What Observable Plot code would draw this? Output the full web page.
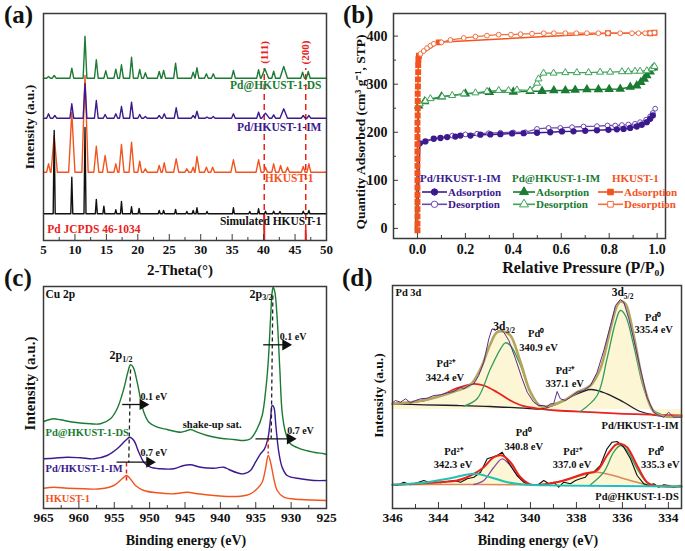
<!DOCTYPE html>
<html><head><meta charset="utf-8">
<script src="https://cdn.jsdelivr.net/npm/d3@7"></script>
<script src="https://cdn.jsdelivr.net/npm/@observablehq/plot@0.6"></script>
<style>
body{margin:0;background:#fff;}
#fig{position:relative;width:685px;height:551px;overflow:hidden;font-family:"Liberation Serif","Times New Roman",serif;font-weight:bold;background:#fff;}
.panel{position:absolute;}
.plabel{position:absolute;font-size:25px;font-weight:bold;line-height:1;color:#111;}
</style></head><body><div id="fig"></div>
<script>
const FONT = '"Liberation Serif","Times New Roman",serif';
const GREEN = "#1b7b33", PURPLE = "#3c1a8e", ORANGE = "#f2541f", RED = "#e8231c", BLACK = "#111111";
const GREEN_L = "#3fa35a", PURPLE_L = "#6a4aae", ORANGE_L = "#f2703f";

// ================= (a) XRD =================
const xrdTicks = [5, 10, 15, 20, 25, 30, 35, 40, 45, 50];
const xrdMinorTicks = [7.5, 12.5, 17.5, 22.5, 27.5, 32.5, 37.5, 42.5, 47.5];
const dsBase = 162.3;
const dsPeaks = [[5.8,164],[6.7,165],[9.5,172.3],[11.6,204.3],[13.4,180.7],[14.9,169.7],[16.5,171.3],[17.4,175.7],[19.0,183.3],[20.3,171],[21.2,167.7],[23.4,169],[24.1,170],[26.0,177.3],[28.8,168.3],[29.4,172.7],[30.9,166.7],[32.0,166.7],[35.2,170],[39.2,170.7],[40.2,171.7,0.6],[41.6,169.3],[43.2,174,0.6],[46.2,168.3],[47.1,169]];
const imBase = 122.3;
const imPeaks = [[5.8,126.7],[6.8,125],[9.5,136.7],[11.6,156.7],[13.4,140],[14.8,126],[16.5,126.7],[17.4,134],[19.0,138.3],[20.3,126],[21.2,124],[23.4,125],[24.2,126.7],[26.1,132.7],[28.8,125],[29.4,129.3],[31.0,123.3],[32.0,124],[35.2,126.7],[39.2,128.3],[40.3,127.3,0.6],[41.6,125.7],[43.2,131.7,0.6],[46.3,125],[47.2,125]];
const hkBase = 68.3;
const hkPeaks = [[5.8,76.7],[6.7,105,0.5],[9.5,128,0.5],[11.6,165,0.5],[13.4,94.3,0.4],[14.8,85,0.4],[16.5,76.7],[17.4,96,0.4],[19.0,98.3,0.4],[20.3,79.3],[21.2,71.7],[23.4,75],[24.2,77.7],[26.1,81.7,0.4],[27.8,71.7],[28.8,73.3],[29.4,84,0.4],[30.9,73.3],[31.9,73.3],[35.2,80.7,0.4],[39.2,80.7,0.4],[40.3,73.3],[41.6,76.7],[42.7,75],[43.8,73.3],[46.3,74],[47.2,76.7]];
const simBase = 26.7;
const simPeaks = [[6.7,110],[9.5,63.3],[11.6,113],[13.4,41],[14.6,34.3],[16.5,30.7],[17.4,39],[19.0,33.7],[20.2,32],[23.4,30],[24.1,30],[26.0,31],[27.8,29],[28.8,30],[29.4,32.7],[31.0,29],[35.2,32.7],[37.8,29],[39.2,31.7],[40.3,29.3],[41.6,29.3],[42.6,29],[46.3,29.3],[47.2,30]];
const pdPos = [40.1, 46.7];
const pdStick = [27, 10];
const pdHkl = ["(111)", "(200)"];
const pdDashTop = 172;
const pdHklY = 188;
const xrdLabels = [
  {x: 49.2, y: 155, t: "Pd@HKUST-1-DS", c: GREEN, a: "end"},
  {x: 49.2, y: 113, t: "Pd/HKUST-1-IM", c: PURPLE, a: "end"},
  {x: 47.95, y: 62, t: "HKUST-1", c: ORANGE, a: "end"},
  {x: 49.2, y: 19, t: "Simulated HKUST-1", c: BLACK, a: "end"},
  {x: 5.6, y: 11, t: "Pd JCPDS 46-1034", c: RED, a: "start"}
];

// ================= (b) N2 isotherms =================
const bTicksX = [0, 0.2, 0.4, 0.6, 0.8, 1.0];
const bMinorX = [-0.1, 0.1, 0.3, 0.5, 0.7, 0.9];
const bTicksY = [0, 100, 200, 300, 400];
const bMinorY = [50, 150, 250, 350];
const hkAds = [[0,-4],[0,10],[0,25],[0,40],[0,55],[0,70],[0,85],[0,100],[0,115],[0,130],[0,145],[0,160],[0,175],[0,190],[0,205],[0,220],[0.001,235],[0.001,250],[0.001,265],[0.001,280],[0.002,295],[0.002,310],[0.003,325],[0.003,340],[0.004,352],[0.006,359],[0.089,387],[0.795,406],[0.971,406],[0.989,407]];
const hkDes = [[0.0125,363],[0.026,369],[0.04,375],[0.054,380],[0.068,384],[0.10,387],[0.1375,392],[0.193,396],[0.242,399],[0.29,401],[0.339,403],[0.39,403],[0.43,404],[0.478,405],[0.527,406],[0.569,406],[0.617,406],[0.663,406],[0.707,406],[0.755,406],[0.795,406],[0.846,406],[0.895,406],[0.922,406],[0.95,406],[0.971,406],[0.989,407]];
const dsIsoStart = [-0.008, -3];
const dsAds = [[0.005,255],[0.03,264],[0.1,274],[0.2,280],[0.3,283],[0.4,284],[0.47,285.5],[0.52,285.5],[0.569,287],[0.617,287],[0.658,288],[0.707,289],[0.755,289],[0.80,289.6],[0.846,290],[0.888,294],[0.915,297],[0.932,304],[0.946,311],[0.957,318],[0.971,326],[0.985,334]];
const dsDes = [[0.01,259],[0.033,265],[0.054,270],[0.103,274],[0.145,276.5],[0.193,280],[0.242,282],[0.29,285],[0.339,287],[0.38,287],[0.415,288],[0.47,287],[0.499,302],[0.505,311],[0.526,323],[0.568,323],[0.617,324],[0.665,324],[0.714,324],[0.762,325],[0.804,325],[0.853,326],[0.88,326],[0.908,327],[0.929,327],[0.957,328],[0.978,332],[0.989,337]];
const imIsoStart = [-0.001, -3];
const imAds = [[0.01,177],[0.033,181],[0.068,186.5],[0.096,188],[0.124,190],[0.158,191],[0.179,193],[0.221,193],[0.2625,195],[0.304,195.5],[0.346,196],[0.395,197.5],[0.443,198],[0.499,199],[0.554,200],[0.603,201.7],[0.651,202],[0.70,203],[0.749,204],[0.797,205],[0.832,206],[0.86,207],[0.8875,209],[0.915,212],[0.936,215.6],[0.957,221],[0.971,228],[0.982,235]];
const imDes = [[0.01,177],[0.05,184],[0.1,189],[0.145,193],[0.2,195.5],[0.249,197],[0.297,198],[0.346,199],[0.40,199.6],[0.45,200],[0.499,207],[0.547,209],[0.596,209],[0.645,210.6],[0.693,212],[0.749,212.7],[0.793,214],[0.825,214],[0.853,215],[0.88,216],[0.908,217.6],[0.929,221],[0.954,226],[0.971,233],[0.982,240],[0.992,249]];
const imDesMarked = imDes.slice(3);
const legendTitles = ["Pd/HKUST-1-IM", "Pd@HKUST-1-IM", "HKUST-1"];
const legendRows = ["Adsorption", "Desorption"];

// ================= (c) Cu 2p =================
const cTicks = [965, 960, 955, 950, 945, 940, 935, 930, 925];
const cMinor = [962.5, 957.5, 952.5, 947.5, 942.5, 937.5, 932.5, 927.5];
const cuDS = [[964.95,87],[963.54,89.7],[962.6,88.7],[960.7,86.3],[958.36,84.7],[956.94,84.7],[955.53,89.7],[954.59,99.7],[953.65,119.7],[953.08,136.3],[952.70,143.7],[952.33,141.3],[951.76,126.3],[951.29,109.7],[950.82,96.3],[950.11,86.3],[948.93,81.3],[947.52,79],[945.64,76.3],[944.69,78],[944.22,79],[943.28,76.3],[941.87,73],[939.98,70.3],[938.10,69],[936.68,68],[935.74,69.7],[934.80,79.7],[934.09,93],[933.62,116.3],[933.24,146.3],[932.91,189.7],[932.68,216.3],[932.54,221.3],[932.30,216.3],[931.97,189.7],[931.60,139.7],[931.27,96.3],[930.80,76.3],[930.09,64.7],[928.68,59.7],[926.79,56.3],[925.38,54.7],[925.0,54]];
const cuIM = [[964.95,49.7],[963.54,50.3],[961.65,51.3],[959.77,50.7],[957.89,49.7],[956.0,53],[954.59,59.7],[953.41,68],[952.80,71.3],[952.23,68],[951.53,56.3],[950.82,46.3],[949.88,41.3],[948.46,39.7],[946.58,39.7],[945.16,43],[944.22,43.7],[942.81,41.3],[940.92,40.3],[939.51,41.3],[938.80,39],[937.63,35.7],[936.68,34.7],[935.74,38],[935.04,46.3],[934.33,54.7],[933.76,59.7],[933.29,69.7],[932.91,89.7],[932.68,103],[932.44,101.3],[932.16,83],[931.74,56.3],[931.27,41.3],[930.56,33],[928.68,29.7],[926.79,28],[925.0,28]];
const cuHK = [[964.95,20.3],[963.54,21.3],[961.65,20.3],[959.3,19.7],[956.94,19.7],[955.06,23],[953.88,29.7],[953.27,33],[952.80,30.3],[952.0,23],[950.82,18],[948.93,15.7],[946.58,14.7],[944.69,16.3],[943.28,14.7],[940.92,13],[939.04,12],[937.16,12.3],[935.74,14.7],[934.80,19.7],[934.09,26.3],[933.62,39.7],[933.24,53],[932.91,46.3],[932.44,29.7],[931.97,18],[931.03,11.3],[928.68,9],[925.0,8]];
const cDashBlack = [{x1: 952.70, y1: 139, x2: 952.95, y2: 46}, {x1: 932.58, y1: 213, x2: 932.82, y2: 70}];
const cDashRed = [{x1: 953.27, y1: 46, x2: 953.27, y2: 27}, {x1: 933.24, y1: 71, x2: 933.24, y2: 55}];
const cArrows = [{x1: 953.88, x2: 950.82, y: 104}, {x1: 954.68, x2: 949.88, y: 46.3}, {x1: 933.95, x2: 930.65, y: 163.7}, {x1: 935.04, x2: 930.0, y: 69.7}];
const cLabels = [
  {x: 964.72, y: 213.7, t: "Cu 2p", c: BLACK, a: "start", s: 11.5},
  {x: 941.16, y: 83.7, t: "shake-up sat.", c: BLACK, a: "middle", s: 10.5},
  {x: 951.29, y: 112, t: "0.1 eV", c: BLACK, a: "start", s: 10},
  {x: 951.29, y: 55.3, t: "0.7 eV", c: BLACK, a: "start", s: 10},
  {x: 931.6, y: 171.3, t: "0.1 eV", c: BLACK, a: "start", s: 10},
  {x: 930.56, y: 77.3, t: "0.7 eV", c: BLACK, a: "start", s: 10},
  {x: 964.72, y: 76.3, t: "Pd@HKUST-1-DS", c: GREEN, a: "start", s: 10.5},
  {x: 964.72, y: 39.7, t: "Pd/HKUST-1-IM", c: PURPLE, a: "start", s: 10.5},
  {x: 964.72, y: 9.7, t: "HKUST-1", c: ORANGE, a: "start", s: 10.5}
];
const cOrbitals = [{x: 953.88, y: 153, t: "2p", sub: "1/2"}, {x: 934.09, y: 214.7, t: "2p", sub: "3/2"}];

// ================= (d) Pd 3d =================
const dTicks = [346, 344, 342, 340, 338, 336, 334];
const dMinor = [345, 343, 341, 339, 337, 335];
const imRed = [[346,104.7],[344.64,108],[343.91,113],[343.19,120.3],[342.46,124.7],[342.03,123],[341.45,116.3],[340.87,108],[340.29,102.3],[339.57,99.7],[338.84,98],[337.39,96.3],[335.94,94.7],[334.49,93.7],[333.43,93]];
const imBlack = [[346,104.7],[344.64,103.7],[343.19,103],[341.74,102],[340.29,100.3],[339.57,99.7],[338.84,104.7],[338.12,113],[337.39,119],[336.67,114.7],[335.94,106.3],[335.22,97],[334.49,93],[333.43,92.3]];
const imGreen1 = [[342.90,102.3],[342.32,109.7],[341.74,139.7],[341.30,159.7],[341.09,165.7],[340.87,163],[340.43,143],[340.0,116.3],[339.57,102.3],[339.28,100.3]];
const imGreen2 = [[337.83,97],[337.10,113],[336.67,149.7],[336.30,186.3],[336.09,198],[335.87,193],[335.51,163],[335.07,119.7],[334.64,98],[334.35,94.7]];
const imEnv = [[346,104.7],[344.64,108.3],[343.19,118],[342.61,123.7],[342.17,139.7],[341.74,164.7],[341.45,176.3],[341.16,177],[340.87,173],[340.43,146.3],[340.0,116.3],[339.57,102.3],[339.28,102.3],[338.55,108],[337.97,116.3],[337.39,123],[336.96,139.7],[336.52,179.7],[336.23,203],[336.09,207],[335.87,204.7],[335.51,173],[335.07,123],[334.64,97],[334.20,92.3],[333.43,92]];
const imRaw = [[346,105.7],[345.87,108],[345.65,106.3],[345.43,109.7],[345.22,105.7],[345.0,108],[344.78,109.7],[344.49,110.3],[344.20,113],[343.91,113.7],[343.62,115.7],[343.33,117],[343.04,121.3],[342.90,119.7],[342.68,123],[342.46,124.7],[342.25,133],[342.03,146.3],[341.81,169.7],[341.67,179.7],[341.52,178],[341.38,181.3],[341.16,176.3],[340.94,168],[340.65,149.7],[340.36,129.7],[340.14,116.3],[339.86,106.3],[339.64,103],[339.42,103],[339.28,101.3],[339.13,104.7],[338.99,104.7],[338.84,117],[338.70,109.7],[338.48,108],[338.26,111.3],[337.97,116.3],[337.68,118],[337.39,123],[337.10,136.3],[336.81,158],[336.52,183],[336.30,203],[336.09,209],[335.94,206.3],[335.72,189.7],[335.51,169.7],[335.22,139.7],[334.93,111.3],[334.64,96.3],[334.42,93],[334.20,91.3],[333.99,96.3],[333.77,91.3],[333.43,91.3]];
const dsCyan = [[346,23.7],[344.64,25.7],[343.48,30.3],[342.46,34.7],[341.74,31.3],[341.01,26.3],[340.29,24],[338.84,23],[333.43,22]];
const dsViolet = [[342.46,24],[342.03,28],[341.59,41.3],[341.23,49.7],[340.94,44.7],[340.51,31.3],[340.14,24]];
const dsTan = [[346,23.7],[343.19,24],[340.29,23.7],[339.57,24],[338.55,28],[337.68,33.7],[337.10,36.3],[336.52,33.7],[335.65,28],[334.78,23],[333.43,22]];
const dsGreen = [[337.39,23.7],[336.81,36.3],[336.38,56.3],[336.09,63],[335.80,58],[335.36,39.7],[334.93,25.7],[334.64,23]];
const dsEnv = [[346,23.7],[343.91,26.3],[343.19,28],[342.46,34.7],[342.03,41.3],[341.59,51.3],[341.23,53],[340.87,46.3],[340.43,31.3],[340.0,24],[339.42,24],[338.55,28],[337.68,34.7],[337.10,38],[336.67,53],[336.30,63.7],[336.09,64.7],[335.80,61.3],[335.36,43],[334.93,26.3],[334.64,23],[333.43,22]];
const dsRaw = [[346,23.7],[345.80,23],[345.51,26.3],[345.22,23.7],[344.93,25.7],[344.64,28],[344.42,26.3],[344.20,27],[343.91,25.7],[343.62,27],[343.33,28],[343.04,26.3],[342.75,29.7],[342.46,31.3],[342.17,36.3],[341.88,49.7],[341.67,51.3],[341.45,53],[341.23,56.3],[341.09,51.3],[340.87,43],[340.58,33],[340.29,26.3],[340.0,23.7],[339.71,23],[339.42,28],[339.20,24.7],[338.99,26.3],[338.77,21.3],[338.55,26.3],[338.26,24.7],[338.04,28],[337.83,29.7],[337.61,31.3],[337.46,35.7],[337.25,36.3],[336.96,43],[336.67,59.7],[336.45,66.3],[336.23,67],[335.94,61.3],[335.65,49.7],[335.36,33],[335.07,24.7],[334.86,23],[334.64,24.7],[334.42,21.3],[334.20,23.7],[333.99,23],[333.77,21.3],[333.43,23]];
const imFillBase = 99;
const dsFillBase = 24;
const dLabels = [
  {x: 345.87, y: 215.7, t: "Pd 3d", a: "start", c: BLACK},
  {x: 343.66, y: 144.7, t: "Pd²⁺", a: "middle", c: BLACK},
  {x: 343.72, y: 131.3, t: "342.4 eV", a: "middle", c: BLACK},
  {x: 339.75, y: 174.7, t: "Pd⁰", a: "middle", c: BLACK},
  {x: 339.65, y: 161.3, t: "340.9 eV", a: "middle", c: BLACK},
  {x: 338.48, y: 138, t: "Pd²⁺", a: "middle", c: BLACK},
  {x: 338.51, y: 124.7, t: "337.1 eV", a: "middle", c: BLACK},
  {x: 334.66, y: 191.3, t: "Pd⁰", a: "middle", c: BLACK},
  {x: 334.64, y: 179, t: "335.4 eV", a: "middle", c: BLACK},
  {x: 343.33, y: 57.3, t: "Pd²⁺", a: "middle", c: BLACK},
  {x: 343.37, y: 44, t: "342.3 eV", a: "middle", c: BLACK},
  {x: 340.29, y: 75.7, t: "Pd⁰", a: "middle", c: BLACK},
  {x: 340.29, y: 62.3, t: "340.8 eV", a: "middle", c: BLACK},
  {x: 338.15, y: 57.3, t: "Pd²⁺", a: "middle", c: BLACK},
  {x: 338.19, y: 44, t: "337.0 eV", a: "middle", c: BLACK},
  {x: 334.53, y: 57.3, t: "Pd⁰", a: "middle", c: BLACK},
  {x: 334.35, y: 44, t: "335.3 eV", a: "middle", c: BLACK},
  {x: 333.55, y: 83, t: "Pd/HKUST-1-IM", a: "end", c: BLACK},
  {x: 333.55, y: 12.3, t: "Pd@HKUST-1-DS", a: "end", c: BLACK}
];
const dOrbitals = [{x: 341.09, y: 182.3, t: "3d", sub: "3/2"}, {x: 335.94, y: 216.3, t: "3d", sub: "5/2"}];

// ================= helpers =================
const fig = document.getElementById("fig");
function place(node, left, top) {
  const d = document.createElement("div");
  d.className = "panel"; d.style.left = left + "px"; d.style.top = top + "px";
  d.appendChild(node); fig.appendChild(d); return d;
}
function xrdTrace(base, peaks, halfWidth) {
  const pts = [[5, base], [50, base]];
  for (const [pos, top, hw = halfWidth] of peaks) pts.push([pos - hw, base], [pos, top], [pos + hw, base]);
  return pts.sort((a, b) => a[0] - b[0]);
}
// text marks grouped by anchor (textAnchor is a constant option in Plot)
function anchoredText(data, options) {
  return ["start", "middle", "end"].map(a =>
    Plot.text(data.filter(d => d.a === a), {...options, textAnchor: a}));
}
const X = d => d[0], Y = d => d[1];
const baseStyle = {fontFamily: FONT, fontWeight: "bold", background: "transparent", overflow: "visible", color: "#111"};
const FRAME = "#3a3a3a";
function xTitle(t, dy, dx, size) {
  return Plot.text([t], {frameAnchor: "bottom", textAnchor: "middle", lineAnchor: "middle", dy, dx, fontSize: size});
}
function yTitle(t, dx, dy, size) {
  return Plot.text([t], {frameAnchor: "left", textAnchor: "middle", lineAnchor: "middle", rotate: -90, dx, dy, fontSize: size});
}

// ---------- Plot (a)
const pdTable = pdPos.map((x, i) => ({x, h: pdStick[i], hkl: pdHkl[i]}));
const plotA = Plot.plot({
  width: 340, height: 275, marginLeft: 43, marginRight: 14, marginTop: 13, marginBottom: 35,
  x: {domain: [5, 50]}, y: {domain: [0, 227], axis: null}, color: {type: "identity"},
  style: baseStyle,
  marks: [
    Plot.ruleX(pdTable, {x: "x", y1: 0, y2: pdDashTop, stroke: RED, strokeWidth: 1.5, strokeDasharray: "6,4"}),
    Plot.ruleX(pdTable, {x: "x", y1: 0, y2: "h", stroke: RED, strokeWidth: 2}),
    Plot.line(xrdTrace(hkBase, hkPeaks, 0.3), {x: X, y: Y, stroke: ORANGE, strokeWidth: 1.4}),
    Plot.line(xrdTrace(imBase, imPeaks, 0.3), {x: X, y: Y, stroke: PURPLE, strokeWidth: 1.4}),
    Plot.line(xrdTrace(dsBase, dsPeaks, 0.3), {x: X, y: Y, stroke: GREEN, strokeWidth: 1.4}),
    Plot.line(xrdTrace(simBase, simPeaks, 0.16), {x: X, y: Y, stroke: BLACK, strokeWidth: 1.4}),
    Plot.text(pdTable, {x: "x", y: pdHklY, text: "hkl", rotate: -90, fill: RED, fontSize: 11}),
    ...anchoredText(xrdLabels, {x: "x", y: "y", text: "t", fill: "c", fontSize: 11.5}),
    Plot.tickX(xrdTicks, {x: d => d, insetTop: 221, stroke: FRAME}),
    Plot.tickX(xrdMinorTicks, {x: d => d, insetTop: 224, stroke: FRAME}),
    Plot.frame({stroke: FRAME, strokeWidth: 1.5}),
    Plot.axisX({ticks: xrdTicks, tickSize: 0, tickPadding: 4, fontSize: 13, label: null}),
    xTitle("2-Theta(°)", 30, -5, 15),
    yTitle("Intensity (a.u.)", -14, 0, 13.5)
  ]
});
place(plotA, 0, 0);

// ---------- Plot (b)
const plotB = Plot.plot({
  width: 345, height: 275, marginLeft: 53, marginRight: 20, marginTop: 13, marginBottom: 37,
  x: {domain: [-0.1, 1.035]}, y: {domain: [-21, 447]},
  style: baseStyle,
  marks: [
    Plot.line([imIsoStart, ...imAds], {x: X, y: Y, stroke: PURPLE, strokeWidth: 1.5}),
    Plot.line(imDes, {x: X, y: Y, stroke: PURPLE_L, strokeWidth: 1.3}),
    Plot.dot(imDesMarked, {x: X, y: Y, r: 2.4, fill: "white", stroke: PURPLE_L, strokeWidth: 1}),
    Plot.dot(imAds, {x: X, y: Y, r: 2.4, fill: PURPLE, stroke: PURPLE}),
    Plot.line([dsIsoStart, ...dsAds], {x: X, y: Y, stroke: GREEN, strokeWidth: 1.5}),
    Plot.line(dsDes, {x: X, y: Y, stroke: GREEN_L, strokeWidth: 1.3}),
    Plot.dot(dsAds, {x: X, y: Y, r: 2.6, symbol: "triangle", fill: GREEN, stroke: GREEN}),
    Plot.dot(dsDes, {x: X, y: Y, r: 2.6, symbol: "triangle", fill: "white", stroke: GREEN_L, strokeWidth: 1}),
    Plot.line(hkAds, {x: X, y: Y, stroke: ORANGE, strokeWidth: 1.5}),
    Plot.line(hkDes, {x: X, y: Y, stroke: ORANGE_L, strokeWidth: 1.3}),
    Plot.dot(hkAds, {x: X, y: Y, r: 2.5, symbol: "square", fill: ORANGE, stroke: ORANGE}),
    Plot.dot(hkDes, {x: X, y: Y, r: 2.4, fill: "white", stroke: ORANGE_L, strokeWidth: 1}),
    Plot.tickX(bTicksX, {x: d => d, insetTop: 220, stroke: FRAME}),
    Plot.tickX(bMinorX, {x: d => d, insetTop: 222, stroke: FRAME}),
    Plot.tickY(bTicksY, {y: d => d, insetRight: 267, stroke: FRAME}),
    Plot.tickY(bMinorY, {y: d => d, insetRight: 269, stroke: FRAME}),
    Plot.frame({stroke: FRAME, strokeWidth: 1.5}),
    Plot.axisX({ticks: bTicksX, tickFormat: d => d.toFixed(1), tickSize: 0, tickPadding: 6, fontSize: 14, label: null}),
    Plot.axisY({ticks: bTicksY, tickSize: 0, tickPadding: 6, fontSize: 14, label: null}),
    xTitle("Relative Pressure (P/P₀)", 29, 54, 16),
    yTitle("Quantity Adsorbed (cm³ g⁻¹, STP)", -33, 6, 13.5)
  ]
});
const divB = place(plotB, 340, 0);

// legend for (b)
const legCols = [
  {title: legendTitles[0], c: PURPLE, cl: PURPLE_L, sym: d3.symbolCircle, tx: 80, l0: 82, l1: 107, size: 20},
  {title: legendTitles[1], c: GREEN, cl: GREEN_L, sym: d3.symbolTriangle, tx: 172, l0: 173, l1: 195, size: 22},
  {title: legendTitles[2], c: ORANGE, cl: ORANGE_L, sym: d3.symbolSquare, tx: 272, l0: 258, l1: 283, size: 20}
];
const leg = d3.create("svg").attr("width", 345).attr("height", 275)
  .style("position", "absolute").style("left", "0px").style("top", "0px")
  .style("font-family", FONT).style("font-weight", "bold").style("font-size", "11px");
legCols.forEach(col => {
  leg.append("text").attr("x", col.tx).attr("y", 178).attr("dy", "0.35em").attr("fill", col.c).text(col.title);
  legendRows.forEach((row, i) => {
    const y = 192 + i * 12.3;
    const stroke = i === 0 ? col.c : col.cl;
    leg.append("line").attr("x1", col.l0).attr("x2", col.l1).attr("y1", y).attr("y2", y).attr("stroke", stroke).attr("stroke-width", 1.6);
    leg.append("path").attr("d", d3.symbol(col.sym, col.size * 1.6)()).attr("transform", `translate(${(col.l0 + col.l1) / 2},${y})`)
      .attr("fill", i === 0 ? col.c : "white").attr("stroke", stroke).attr("stroke-width", 1);
    leg.append("text").attr("x", col.l1 + 1).attr("y", y).attr("dy", "0.35em").attr("fill", col.c).text(row);
  });
});
divB.appendChild(leg.node());

// ---------- Plot (c)
const plotC = Plot.plot({
  width: 340, height: 276, marginLeft: 43, marginRight: 14, marginTop: 11, marginBottom: 43,
  x: {domain: [965, 925]}, y: {domain: [0, 222], axis: null}, color: {type: "identity"},
  style: baseStyle,
  marks: [
    Plot.line(cuHK, {x: X, y: Y, stroke: ORANGE, strokeWidth: 1.4, curve: "catmull-rom"}),
    Plot.line(cuIM, {x: X, y: Y, stroke: PURPLE, strokeWidth: 1.4, curve: "catmull-rom"}),
    Plot.line(cuDS, {x: X, y: Y, stroke: GREEN, strokeWidth: 1.4, curve: "catmull-rom"}),
    Plot.link(cDashBlack, {x1: "x1", y1: "y1", x2: "x2", y2: "y2", stroke: "#222", strokeWidth: 1.3, strokeDasharray: "4,3"}),
    Plot.link(cDashRed, {x1: "x1", y1: "y1", x2: "x2", y2: "y2", stroke: RED, strokeWidth: 1.5, strokeDasharray: "4,3"}),
    Plot.link(cArrows, {x1: "x1", x2: "x2", y1: "y", y2: "y", stroke: "#111", strokeWidth: 1.3}),
    Plot.dot(cArrows, {x: "x2", y: "y", symbol: "triangle", rotate: 90, r: 3.2, fill: "#111", stroke: "#111", dx: -1}),
    ...anchoredText(cLabels, {x: "x", y: "y", text: "t", fill: "c", fontSize: "s"}),
    Plot.text(cOrbitals, {x: "x", y: "y", text: "t", textAnchor: "end", fontSize: 12}),
    Plot.text(cOrbitals, {x: "x", y: "y", text: "sub", textAnchor: "start", dy: 4, fontSize: 8}),
    Plot.tickX(cTicks, {x: d => d, insetTop: 216, stroke: FRAME}),
    Plot.tickX(cMinor, {x: d => d, insetTop: 219, stroke: FRAME}),
    Plot.frame({stroke: FRAME, strokeWidth: 1.5}),
    Plot.axisX({ticks: cTicks, tickSize: 0, tickPadding: 4, fontSize: 13.5, label: null}),
    xTitle("Binding energy (eV)", 32, 1, 14),
    yTitle("Intensity (a.u.)", -13, -14, 15)
  ]
});
place(plotC, 0, 275);

// ---------- Plot (d)
const plotD = Plot.plot({
  width: 345, height: 276, marginLeft: 52, marginRight: 4, marginTop: 10, marginBottom: 43,
  x: {domain: [346, 333.43]}, y: {domain: [0, 223], axis: null}, color: {type: "identity"},
  style: baseStyle,
  marks: [
    Plot.areaY(imEnv, {x: X, y1: imFillBase, y2: Y, fill: "#fbf4cc", fillOpacity: 0.85, curve: "catmull-rom"}),
    Plot.areaY(dsEnv, {x: X, y1: dsFillBase, y2: Y, fill: "#fbf4cc", fillOpacity: 0.85, curve: "catmull-rom"}),
    Plot.line(imBlack, {x: X, y: Y, stroke: "#1c1c2c", strokeWidth: 1.3, curve: "catmull-rom"}),
    Plot.line(imRed, {x: X, y: Y, stroke: RED, strokeWidth: 1.8, curve: "catmull-rom"}),
    Plot.line(imGreen1, {x: X, y: Y, stroke: "#2f9c5c", strokeWidth: 1.3, curve: "catmull-rom"}),
    Plot.line(imGreen2, {x: X, y: Y, stroke: "#2f9c5c", strokeWidth: 1.3, curve: "catmull-rom"}),
    Plot.line(imEnv, {x: X, y: Y, stroke: "#b2a560", strokeWidth: 2.6, curve: "catmull-rom"}),
    Plot.line(imRaw, {x: X, y: Y, stroke: "#5b2d86", strokeWidth: 1, curve: "linear"}),
    Plot.line(dsTan, {x: X, y: Y, stroke: "#d98b55", strokeWidth: 1.5, curve: "catmull-rom"}),
    Plot.line(dsViolet, {x: X, y: Y, stroke: "#8c4fa0", strokeWidth: 1.3, curve: "catmull-rom"}),
    Plot.line(dsGreen, {x: X, y: Y, stroke: "#2f9c5c", strokeWidth: 1.3, curve: "catmull-rom"}),
    Plot.line(dsRaw, {x: X, y: Y, stroke: "#111", strokeWidth: 1.1, curve: "linear"}),
    Plot.line(dsEnv, {x: X, y: Y, stroke: RED, strokeWidth: 2, curve: "catmull-rom"}),
    Plot.line(dsCyan, {x: X, y: Y, stroke: "#1fc2b2", strokeWidth: 2, curve: "catmull-rom"}),
    ...anchoredText(dLabels, {x: "x", y: "y", text: "t", fill: "c", fontSize: 10.5}),
    Plot.text(dOrbitals, {x: "x", y: "y", text: "t", textAnchor: "end", fontSize: 11.5}),
    Plot.text(dOrbitals, {x: "x", y: "y", text: "sub", textAnchor: "start", dy: 4, fontSize: 7.5}),
    Plot.tickX(dTicks, {x: d => d, insetTop: 217, stroke: FRAME}),
    Plot.tickX(dMinor, {x: d => d, insetTop: 219, stroke: FRAME}),
    Plot.frame({stroke: FRAME, strokeWidth: 1.5}),
    Plot.axisX({ticks: dTicks, tickSize: 0, tickPadding: 4, fontSize: 13.5, label: null}),
    xTitle("Binding energy (eV)", 32, 1, 14),
    yTitle("Intensity (a.u.)", -14, -1.5, 13.5)
  ]
});
place(plotD, 340, 275);

// panel letters
[["(a)", 4, 2], ["(b)", 343, 2], ["(c)", 4, 265], ["(d)", 342, 265]].forEach(([t, l, tp]) => {
  const s = document.createElement("div");
  s.className = "plabel"; s.textContent = t; s.style.left = l + "px"; s.style.top = tp + "px";
  fig.appendChild(s);
});
</script></body></html>
